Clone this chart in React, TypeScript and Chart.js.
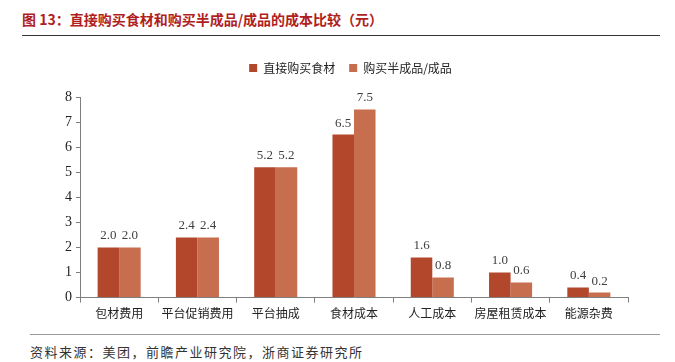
import React, { useEffect, useRef } from "react";
import { Chart, registerables } from "chart.js";

Chart.register(...registerables);

const categories = ["包材费用", "平台促销费用", "平台抽成", "食材成本", "人工成本", "房屋租赁成本", "能源杂费"];
const directValues = [2.0, 2.4, 5.2, 6.5, 1.6, 1.0, 0.4];
const semiValues = [2.0, 2.4, 5.2, 7.5, 0.8, 0.6, 0.2];
const seriesNames = ["直接购买食材", "购买半成品/成品"];
const yTicks = [0, 1, 2, 3, 4, 5, 6, 7, 8];

const SERIF = '"Liberation Serif", "Noto Sans CJK SC", serif';
const CJK = '"Noto Sans CJK SC", "Liberation Serif", sans-serif';

const labelPlugin = {
  id: "valueLabels",
  afterDatasetsDraw(chart: any) {
    const ctx = chart.ctx;
    ctx.save();
    ctx.font = "13px " + SERIF;
    ctx.fillStyle = "#404040";
    ctx.textAlign = "center";
    ctx.textBaseline = "bottom";
    chart.data.datasets.forEach((ds: any, i: number) => {
      const meta = chart.getDatasetMeta(i);
      meta.data.forEach((el: any, j: number) => {
        const v = ds.data[j];
        ctx.fillText(Number(v).toFixed(1), el.x, el.y - 5);
      });
    });
    ctx.restore();
  },
};

const legendPlugin = {
  id: "legendAdjust",
  beforeInit(chart: any) {
    const orig = chart.legend.fit;
    chart.legend.fit = function () {
      orig.bind(chart.legend)();
      this.height += 13;
    };
  },
  afterLayout(chart: any) {
    chart.legend.left += 6;
    chart.legend.right += 6;
  },
};

export default function App() {
  const ref = useRef<HTMLCanvasElement>(null);
  useEffect(() => {
    document.body.style.margin = "0";
    const chart = new Chart(ref.current!, {
      type: "bar",
      data: {
        labels: categories,
        datasets: [
          { label: seriesNames[0], data: directValues, backgroundColor: "#B2472B", borderWidth: 0 },
          { label: seriesNames[1], data: semiValues, backgroundColor: "#C76E4E", borderWidth: 0 },
        ],
      },
      options: {
        responsive: false,
        animation: false,
        devicePixelRatio: 1,
        layout: { padding: { left: 61, right: 47, top: 0, bottom: 0 } },
        plugins: {
          legend: {
            position: "top",
            labels: {
              boxWidth: 8,
              boxHeight: 8,
              padding: 14,
              color: "#222",
              font: { size: 12, family: CJK },
            },
          },
          tooltip: { enabled: false },
        },
        datasets: { bar: { categoryPercentage: 0.55, barPercentage: 1.0 } },
        scales: {
          x: {
            offset: true,
            grid: { offset: true, drawOnChartArea: false, drawTicks: true, tickLength: 5, color: "#7f7f7f" },
            border: { color: "#7f7f7f", width: 1 },
            ticks: { color: "#222", font: { size: 12, family: CJK }, padding: 4, maxRotation: 0 },
          },
          y: {
            min: 0,
            max: 8,
            afterBuildTicks: (s: any) => { s.ticks = yTicks.map((v) => ({ value: v })); },
            grid: { drawOnChartArea: false, drawTicks: true, tickLength: 4, color: "#7f7f7f" },
            border: { color: "#7f7f7f", width: 1 },
            ticks: { color: "#222", font: { size: 14, family: SERIF }, padding: 4 },
          },
        },
      },
      plugins: [labelPlugin, legendPlugin],
    } as any);
    return () => chart.destroy();
  }, []);

  return (
    <div style={{ position: "relative", width: 675, height: 362, background: "#fff", overflow: "hidden" }}>
      <div style={{ position: "absolute", left: 22, top: 9, fontFamily: CJK, fontWeight: "bold", fontSize: 14, color: "#B01E1E", whiteSpace: "nowrap" }}>
        图 13：直接购买食材和购买半成品/成品的成本比较（元）
      </div>
      <div style={{ position: "absolute", left: 22, top: 35, width: 638, height: 1, background: "#333" }} />
      <canvas ref={ref} width={675} height={277} style={{ position: "absolute", left: 0, top: 48 }} />
      <div style={{ position: "absolute", left: 30, top: 334, width: 630, height: 1, background: "#999" }} />
      <div style={{ position: "absolute", left: 30, top: 342, fontFamily: CJK, fontSize: 13, letterSpacing: 1.5, color: "#333", whiteSpace: "nowrap" }}>
        资料来源：美团，前瞻产业研究院，浙商证券研究所
      </div>
    </div>
  );
}
